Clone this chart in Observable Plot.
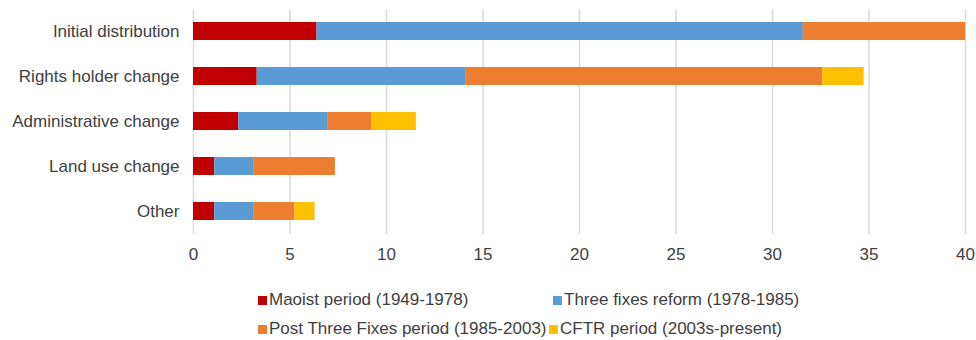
<!DOCTYPE html>
<html>
<head>
<meta charset="utf-8">
<script src="https://cdn.jsdelivr.net/npm/d3@7"></script>
<script src="https://cdn.jsdelivr.net/npm/@observablehq/plot@0.6"></script>
<style>
  body { margin: 0; background: #fff; font-family: "Liberation Sans", Arial, sans-serif; }
  #chart svg { display: block; }
  #legend { position: relative; height: 75px; font-size: 17px; color: #404040; }
  .item { position: absolute; display: flex; align-items: center; white-space: nowrap; line-height: 20px; }
  .sw { width: 9px; height: 9px; margin-right: 2px; }
</style>
</head>
<body>
<div id="chart"></div>
<div id="legend"></div>
<script>
const categories = ["Initial distribution", "Rights holder change", "Administrative change", "Land use change", "Other"];
const periods = ["Maoist period (1949-1978)", "Three fixes reform (1978-1985)", "Post Three Fixes period (1985-2003)", "CFTR period (2003s-present)"];
const colors = ["#C00000", "#5B9BD5", "#ED7D31", "#FFC000"];
const maoist = [6.4, 3.3, 2.35, 1.1, 1.1];
const threeFixes = [25.2, 10.8, 4.6, 2.05, 2.05];
const postThreeFixes = [8.4, 18.5, 2.3, 4.2, 2.1];
const cftr = [0, 2.15, 2.3, 0, 1.05];
const xTicks = [0, 5, 10, 15, 20, 25, 30, 35, 40];

const series = [maoist, threeFixes, postThreeFixes, cftr];
const data = [];
series.forEach((vals, si) => {
  categories.forEach((c, ci) => data.push({category: c, period: periods[si], value: vals[ci]}));
});

const chart = Plot.plot({
  width: 976,
  height: 265,
  marginLeft: 193,
  marginRight: 11,
  marginTop: 9,
  marginBottom: 31,
  style: {fontFamily: "'Liberation Sans', Arial, sans-serif", fontSize: "17px", color: "#404040", background: "#fff"},
  x: {domain: [0, 40], ticks: xTicks, label: null, tickSize: 0, tickPadding: 13},
  y: {domain: categories, paddingInner: 0.6, paddingOuter: 0.3, label: null, tickSize: 0, tickPadding: 14},
  color: {domain: periods, range: colors},
  marks: [
    Plot.ruleX(xTicks, {stroke: "#d9d9d9", strokeWidth: 1.5}),
    Plot.barX(data, {x: "value", y: "category", fill: "period"}),
    Plot.axisX({ticks: xTicks, tickSize: 0, tickPadding: 13, fill: "#404040", fontSize: 17}),
    Plot.axisY({tickSize: 0, tickPadding: 14, fill: "#404040", fontSize: 17})
  ]
});
document.getElementById("chart").appendChild(chart);

const legend = document.getElementById("legend");
const pos = [[258, 35], [553, 35], [258, 64], [549, 64]];
periods.forEach((p, i) => {
  const it = document.createElement("div");
  it.className = "item";
  it.style.left = pos[i][0] + "px";
  it.style.top = (pos[i][1] - 10) + "px";
  it.innerHTML = `<span class="sw" style="background:${colors[i]}"></span><span>${p}</span>`;
  legend.appendChild(it);
});
</script>
</body>
</html>
